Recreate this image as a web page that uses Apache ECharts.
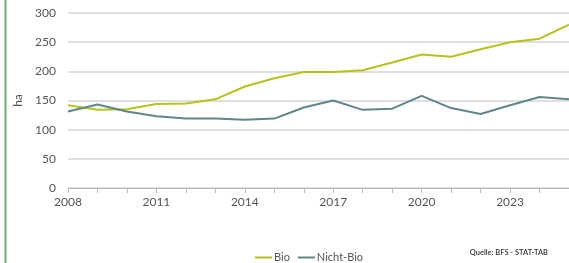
<!DOCTYPE html>
<html>
<head>
<meta charset="utf-8">
<script src="https://cdn.jsdelivr.net/npm/echarts@6/dist/echarts.min.js"></script>
<style>
  html, body { margin: 0; padding: 0; background: #fff; }
  #chart { width: 569px; height: 263px; }
</style>
</head>
<body>
<div id="chart"></div>
<script>
// Jahre (x-Achse)
const years = ['2008', '2009', '2010', '2011', '2012', '2013', '2014', '2015', '2016',
  '2017', '2018', '2019', '2020', '2021', '2022', '2023', '2024', '2025']
// Werte in ha
const bio = [142, 134, 135, 144, 145, 152, 174, 188, 199, 199, 202, 215, 229, 225, 238, 250, 256, 280]
const nichtBio = [131, 143, 131, 123, 119, 119, 117, 119, 138, 150, 134, 136, 158, 137, 127, 142, 156, 152]
const yTicks = { min: 0, max: 300, interval: 50 }

const chart = echarts.init(document.getElementById('chart'))
const font = 'Lato, "Open Sans", sans-serif'

chart.setOption({
  animation: false,
  textStyle: { fontFamily: font },
  grid: { left: 68, top: 13, right: -9, bottom: 75 },
  graphic: [
    {
      type: 'rect',
      shape: { x: 4.5, y: 0, width: 2, height: 263 },
      style: { fill: '#6fae73' }
    },
    {
      type: 'text',
      right: 21,
      top: 249,
      style: { text: 'Quelle: BFS - STAT-TAB', fill: '#333', font: '600 7.5px ' + font }
    }
  ],
  legend: {
    left: 250,
    top: 247,
    itemWidth: 17,
    itemHeight: 2,
    itemGap: 8,
    icon: 'rect',
    textStyle: { color: '#555', fontSize: 11, padding: [0, 0, 0, -3] },
    data: ['Bio', 'Nicht-Bio']
  },
  xAxis: {
    type: 'category',
    boundaryGap: false,
    data: years,
    axisLine: { lineStyle: { color: '#bbb', width: 1 } },
    axisTick: { show: true, interval: 0, length: 5, lineStyle: { color: '#bbb' } },
    axisLabel: { interval: 2, color: '#555', fontSize: 12, margin: 8 },
    splitLine: { show: false }
  },
  yAxis: {
    type: 'value',
    min: yTicks.min,
    max: yTicks.max,
    interval: yTicks.interval,
    name: 'ha',
    nameLocation: 'middle',
    nameRotate: 90,
    nameGap: 42,
    nameTextStyle: { color: '#555', fontSize: 12 },
    axisLine: { show: false },
    axisTick: { show: false },
    axisLabel: { color: '#555', fontSize: 12, margin: 12 },
    splitLine: { lineStyle: { color: '#d4d4d4', width: 1.5 } }
  },
  series: [
    {
      name: 'Bio',
      type: 'line',
      data: bio,
      symbol: 'none',
      lineStyle: { color: '#b5c31c', width: 2 },
      itemStyle: { color: '#b5c31c' }
    },
    {
      name: 'Nicht-Bio',
      type: 'line',
      data: nichtBio,
      symbol: 'none',
      lineStyle: { color: '#5f8788', width: 2 },
      itemStyle: { color: '#5f8788' }
    }
  ]
})
</script>
</body>
</html>
